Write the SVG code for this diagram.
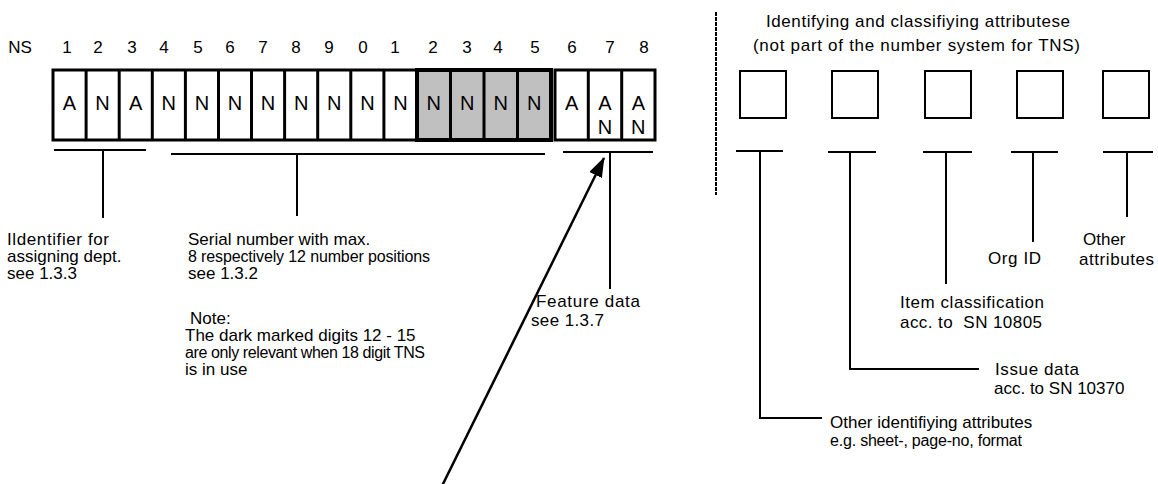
<svg xmlns="http://www.w3.org/2000/svg" width="1158" height="484" viewBox="0 0 1158 484">
<style>
text{font-family:"Liberation Sans",Arial,sans-serif;fill:#000}
.t{font-size:17px}
.s{font-size:16px}
.d{font-size:17px;text-anchor:middle}
.c{font-size:20px;text-anchor:middle}
.pre{white-space:pre}
.box{fill:#fff;stroke:#000;stroke-width:3}
.grey{fill:#c0c0c0;stroke:#000;stroke-width:4}
.div{stroke:#000;stroke-width:3}
.sq{fill:#fff;stroke:#000;stroke-width:2}
.ln{stroke:#000;stroke-width:2;fill:none}
</style>
<defs>
<marker id="ah" markerWidth="20" markerHeight="14" refX="19" refY="7" orient="auto" markerUnits="userSpaceOnUse">
<path d="M0,0 L20,7 L0,14 Z" fill="#000"/>
</marker>
</defs>
<rect width="1158" height="484" fill="#fff"/>
<g id="header-digits">
<text class="d" x="20" y="53">NS</text>
<text class="d" x="67" y="53">1</text>
<text class="d" x="98" y="53">2</text>
<text class="d" x="132" y="53">3</text>
<text class="d" x="164" y="53">4</text>
<text class="d" x="198" y="53">5</text>
<text class="d" x="230" y="53">6</text>
<text class="d" x="263" y="53">7</text>
<text class="d" x="296" y="53">8</text>
<text class="d" x="329" y="53">9</text>
<text class="d" x="363" y="53">0</text>
<text class="d" x="395" y="53">1</text>
<text class="d" x="433" y="53">2</text>
<text class="d" x="467" y="53">3</text>
<text class="d" x="498" y="53">4</text>
<text class="d" x="535" y="53">5</text>
<text class="d" x="572" y="53">6</text>
<text class="d" x="610" y="53">7</text>
<text class="d" x="644" y="53">8</text>
</g>
<g id="number-block-1">
<rect class="box" x="53" y="70" width="364" height="70"/>
<line class="div" x1="86.1" y1="70" x2="86.1" y2="140"/>
<line class="div" x1="119.2" y1="70" x2="119.2" y2="140"/>
<line class="div" x1="152.3" y1="70" x2="152.3" y2="140"/>
<line class="div" x1="185.4" y1="70" x2="185.4" y2="140"/>
<line class="div" x1="218.5" y1="70" x2="218.5" y2="140"/>
<line class="div" x1="251.5" y1="70" x2="251.5" y2="140"/>
<line class="div" x1="284.6" y1="70" x2="284.6" y2="140"/>
<line class="div" x1="317.7" y1="70" x2="317.7" y2="140"/>
<line class="div" x1="350.8" y1="70" x2="350.8" y2="140"/>
<line class="div" x1="383.9" y1="70" x2="383.9" y2="140"/>
<text class="c" x="69.5" y="110">A</text>
<text class="c" x="102.6" y="110">N</text>
<text class="c" x="135.7" y="110">A</text>
<text class="c" x="168.8" y="110">N</text>
<text class="c" x="202" y="110">N</text>
<text class="c" x="235" y="110">N</text>
<text class="c" x="268" y="110">N</text>
<text class="c" x="301.2" y="110">N</text>
<text class="c" x="334.3" y="110">N</text>
<text class="c" x="367.4" y="110">N</text>
<text class="c" x="400.5" y="110">N</text>
</g>
<g id="number-block-grey">
<rect class="grey" x="417" y="70" width="134" height="70"/>
<line class="div" x1="450.5" y1="70" x2="450.5" y2="140"/>
<line class="div" x1="484" y1="70" x2="484" y2="140"/>
<line class="div" x1="517.5" y1="70" x2="517.5" y2="140"/>
<text class="c" x="433.8" y="110">N</text>
<text class="c" x="467.3" y="110">N</text>
<text class="c" x="500.8" y="110">N</text>
<text class="c" x="534.3" y="110">N</text>
</g>
<g id="feature-block">
<rect class="box" x="555" y="70" width="100" height="70"/>
<line class="div" x1="588.3" y1="70" x2="588.3" y2="140"/>
<line class="div" x1="621.7" y1="70" x2="621.7" y2="140"/>
<text class="c" x="571.7" y="110">A</text>
<text class="c" x="605" y="110">A</text>
<text class="c" x="605" y="134">N</text>
<text class="c" x="638.3" y="110">A</text>
<text class="c" x="638.3" y="134">N</text>
</g>
<g id="attr-header">
<text class="t" x="766" y="27" textLength="304">Identifying and classifiying attributese</text>
<text class="t" x="753" y="51" textLength="327">(not part of the number system for TNS)</text>
</g>
<g id="attr-boxes">
<rect class="sq" x="740" y="71" width="46" height="47"/>
<rect class="sq" x="832" y="71" width="46" height="47"/>
<rect class="sq" x="925" y="71" width="46" height="47"/>
<rect class="sq" x="1017" y="71" width="46" height="47"/>
<rect class="sq" x="1103" y="71" width="46" height="47"/>
</g>
<g id="connectors">
<line x1="716" y1="12" x2="716" y2="195" stroke="#000" stroke-width="2" stroke-dasharray="4 1"/>
<path class="ln" d="M54,150 H146 M103,150 V218"/>
<path class="ln" d="M171,154 H545 M297,154 V216"/>
<path class="ln" d="M563,152 H653 M610,152 V289"/>
<path class="ln" d="M736,151 H783 M760,151 V418 H822"/>
<path class="ln" d="M828,152 H876 M850,152 V369 H979"/>
<path class="ln" d="M923,152 H972 M946,152 V284"/>
<path class="ln" d="M1011,152 H1058 M1033,152 V242"/>
<path class="ln" d="M1103,152 H1153 M1127,152 V217"/>
<line x1="441" y1="488" x2="604" y2="158" stroke="#000" stroke-width="2.5" marker-end="url(#ah)"/>
</g>
<g id="label-dept">
<text class="t" x="7" y="245" textLength="102">Ildentifier for</text>
<text class="t" x="7" y="262">assigning dept.</text>
<text class="t" x="7" y="279">see 1.3.3</text>
</g>
<g id="label-serial">
<text class="t" x="188" y="245">Serial number with max.</text>
<text class="s" x="188" y="262" textLength="242">8 respectively 12 number positions</text>
<text class="t" x="188" y="279">see 1.3.2</text>
</g>
<g id="label-note">
<text class="t" x="190" y="324">Note:</text>
<text class="t" x="185" y="341">The dark marked digits 12 - 15</text>
<text class="s" x="185" y="358" textLength="240">are only relevant when 18 digit TNS</text>
<text class="t" x="185" y="375">is in use</text>
</g>
<g id="label-feature">
<text class="t" x="536" y="307" textLength="104">Feature data</text>
<text class="t" x="531" y="326" textLength="73">see 1.3.7</text>
</g>
<g id="label-other-attr">
<text class="t" x="1083" y="245">Other</text>
<text class="t" x="1079" y="265" textLength="75">attributes</text>
</g>
<g id="label-org">
<text class="t" x="988" y="264" textLength="53">Org ID</text>
</g>
<g id="label-item">
<text class="t" x="900" y="308" textLength="144">Item classification</text>
<text class="t pre" x="900" y="328" textLength="142">acc. to  SN 10805</text>
</g>
<g id="label-issue">
<text class="t" x="995" y="375" textLength="84">Issue data</text>
<text class="t" x="994" y="394">acc. to SN 10370</text>
</g>
<g id="label-other-ident">
<text class="t" x="830" y="428">Other identifiying attributes</text>
<text class="s" x="830" y="446" textLength="192">e.g. sheet-, page-no, format</text>
</g>
</svg>
